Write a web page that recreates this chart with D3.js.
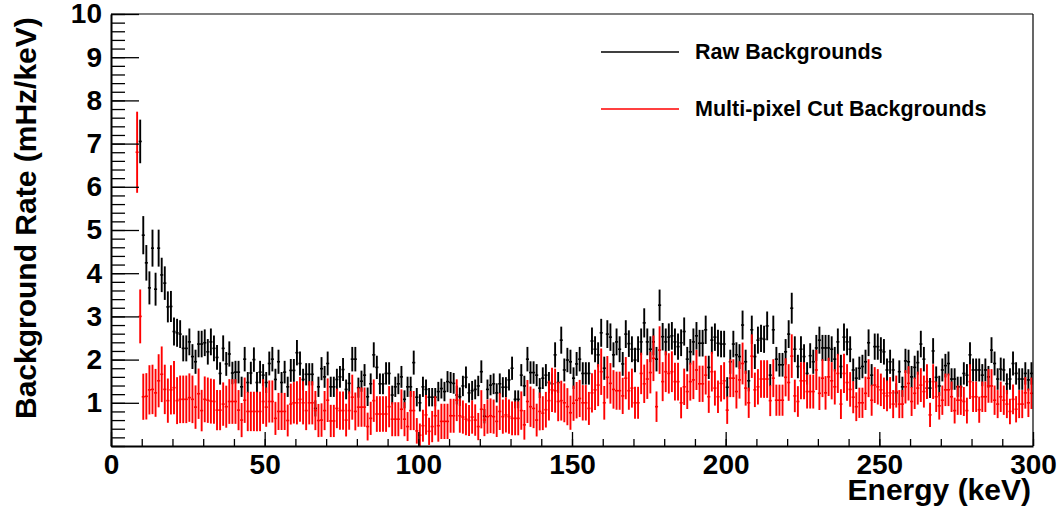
<!DOCTYPE html>
<html>
<head>
<meta charset="utf-8">
<script src="https://cdnjs.cloudflare.com/ajax/libs/d3/7.8.5/d3.min.js"></script>
<style>
  html, body { margin: 0; padding: 0; background: #fff; }
  svg { display: block; }
  text { font-family: "Liberation Sans", Arial, Helvetica, sans-serif; font-weight: bold; fill: #000; }
</style>
</head>
<body>
<svg id="chart" width="1061" height="510"></svg>
<script>
// ---------------- DATA ----------------
// Bin width 1 keV; first bin lower edges
const rawFirstBin = 9;
const cutFirstBin = 8;

// Raw Backgrounds (mHz/keV), bins 9..299 keV
const rawValues = [
  7.05,
  4.88, 4.24, 3.66, 4.58, 3.63, 4.58, 3.96, 3.77, 3.22, 3.23,
  2.65, 2.62, 2.59, 2.26, 2.26, 2.41, 2.07, 1.95, 2.36, 2.36,
  2.39, 2.18, 2.41, 2.26, 2.05, 1.68, 2.26, 1.90, 2.13, 1.69,
  1.71, 1.71, 1.37, 2.01, 1.47, 1.69, 2.00, 1.47, 1.71, 1.64,
  1.47, 1.91, 2.01, 1.54, 1.95, 1.47, 1.71, 1.37, 1.75, 1.75,
  2.16, 1.91, 1.54, 1.66, 1.66, 1.66, 0.87, 1.37, 1.79, 1.60,
  1.91, 1.37, 1.37, 1.54, 1.60, 1.77, 1.31, 1.45, 2.01, 2.01,
  1.35, 1.50, 1.64, 1.14, 1.44, 2.11, 1.82, 1.44, 1.44, 1.68,
  1.68, 1.18, 1.37, 1.44, 1.60, 1.08, 1.37, 1.37, 1.93, 1.13,
  1.00, 1.37, 1.31, 1.13, 1.13, 1.13, 1.26, 1.33, 1.26, 1.49,
  1.47, 1.45, 1.18, 1.14, 1.39, 1.59, 1.23, 1.28, 1.31, 1.39,
  1.72, 0.69, 1.31, 1.41, 1.44, 1.23, 1.44, 1.36, 1.36, 1.53,
  1.80, 1.08, 1.08, 1.64, 1.39, 2.01, 1.70, 1.70, 1.64, 1.34,
  1.57, 1.64, 1.47, 1.44, 2.11, 1.47, 2.45, 1.76, 1.99, 1.95,
  1.57, 1.90, 2.01, 1.68, 1.68, 1.68, 2.43, 2.24, 2.11, 2.62,
  1.80, 2.59, 2.52, 2.11, 2.41, 2.24, 1.90, 2.59, 2.37, 2.24,
  1.99, 2.24, 2.41, 2.85, 2.41, 2.24, 2.41, 2.01, 3.26, 2.53,
  2.41, 2.52, 2.55, 2.41, 2.30, 2.39, 2.65, 2.01, 2.18, 2.41,
  2.55, 2.38, 2.38, 2.69, 1.82, 2.45, 2.52, 2.38, 2.36, 2.36,
  1.36, 1.95, 2.36, 2.11, 2.07, 2.80, 1.95, 1.51, 2.69, 2.07,
  2.45, 2.49, 2.47, 2.78, 1.64, 2.69, 2.01, 1.88, 1.88, 2.18,
  2.59, 3.19, 2.24, 1.84, 2.24, 2.07, 1.68, 2.09, 1.95, 2.27,
  2.45, 2.27, 2.27, 2.27, 2.24, 2.01, 2.41, 1.84, 2.52, 2.41,
  2.24, 1.76, 1.57, 1.80, 1.84, 1.95, 2.39, 1.64, 2.30, 2.30,
  2.22, 2.18, 1.76, 1.95, 1.76, 1.23, 1.72, 1.37, 1.97, 1.95,
  1.60, 1.82, 1.93, 2.36, 2.01, 1.34, 1.34, 2.20, 1.59, 1.39,
  1.76, 1.86, 1.91, 1.55, 1.55, 1.37, 1.37, 1.68, 1.64, 2.11,
  1.76, 1.76, 1.76, 1.64, 1.76, 1.60, 2.22, 1.91, 1.55, 1.78,
  1.76, 1.44, 1.55, 1.91, 1.68, 1.55, 1.55, 1.68, 1.53, 1.68
];

// Multi-pixel Cut Backgrounds (mHz/keV), bins 8..299 keV
const cutValues = [
  6.80, 3.00,
  1.14, 1.15, 1.30, 1.31, 1.23, 1.51, 1.66, 1.31, 1.05, 1.30,
  1.35, 1.05, 1.08, 1.08, 1.08, 1.12, 1.08, 0.90, 1.21, 0.82,
  1.08, 1.06, 1.04, 1.03, 0.83, 0.83, 0.97, 0.91, 1.03, 1.03,
  1.03, 0.83, 0.60, 1.06, 0.80, 0.80, 0.80, 0.80, 0.80, 1.03,
  0.90, 1.03, 1.03, 0.64, 0.80, 0.80, 0.80, 0.59, 0.97, 1.00,
  1.00, 1.08, 1.00, 0.82, 1.00, 1.00, 0.82, 0.59, 0.60, 0.82,
  1.06, 0.58, 0.58, 0.87, 0.82, 0.82, 0.60, 0.82, 1.13, 0.80,
  0.90, 0.90, 0.90, 0.45, 0.64, 1.05, 0.74, 0.74, 0.74, 0.74,
  0.91, 0.62, 0.62, 0.62, 0.85, 0.62, 0.45, 0.82, 0.82, 0.35,
  0.25, 0.47, 0.72, 0.34, 0.45, 0.70, 0.47, 0.57, 0.57, 0.57,
  0.70, 0.70, 1.06, 0.70, 0.67, 0.62, 0.59, 0.67, 0.60, 0.45,
  0.85, 0.60, 0.68, 0.70, 0.68, 0.57, 0.80, 0.68, 0.72, 0.68,
  0.64, 0.64, 0.64, 0.82, 0.49, 1.03, 0.91, 0.87, 0.60, 0.80,
  0.76, 0.84, 1.05, 1.30, 1.28, 1.03, 1.05, 1.00, 0.91, 0.77,
  0.99, 1.06, 1.10, 1.00, 1.00, 0.87, 1.23, 1.30, 1.41, 1.72,
  1.00, 1.59, 1.45, 1.31, 1.28, 1.28, 1.16, 1.57, 1.28, 1.34,
  1.00, 1.00, 1.68, 1.44, 1.55, 1.70, 2.03, 0.91, 2.22, 1.49,
  1.72, 1.68, 1.72, 1.49, 1.49, 1.00, 1.37, 1.26, 1.49, 1.53,
  1.76, 1.44, 1.44, 1.64, 1.14, 1.72, 1.34, 1.14, 1.45, 1.51,
  0.83, 1.57, 1.57, 1.26, 1.53, 1.91, 1.34, 1.00, 2.08, 1.30,
  1.37, 1.55, 1.55, 1.55, 1.05, 1.57, 1.06, 1.06, 1.06, 1.59,
  1.47, 2.08, 1.16, 1.03, 1.51, 1.51, 1.26, 1.26, 1.26, 1.76,
  1.22, 1.57, 1.23, 1.60, 1.51, 1.37, 1.68, 0.97, 1.68, 1.47,
  1.31, 1.13, 0.91, 1.00, 1.00, 1.22, 1.57, 1.06, 1.41, 1.37,
  1.30, 1.22, 1.16, 1.23, 0.97, 1.26, 0.97, 0.97, 1.37, 1.45,
  1.03, 1.22, 1.34, 1.41, 1.26, 1.49, 0.72, 1.49, 1.14, 0.93,
  1.06, 1.30, 1.30, 1.14, 0.82, 1.06, 1.06, 1.03, 0.82, 1.49,
  1.14, 1.14, 0.84, 1.14, 1.14, 1.39, 1.39, 1.06, 0.97, 1.14,
  1.06, 0.97, 0.80, 1.08, 0.85, 0.97, 0.97, 1.23, 1.00, 1.22
];

// Statistical error scale (err = scale * sqrt(value)), read per 10 keV segment
const rawErrScale = [0.19, 0.20, 0.20, 0.20, 0.20, 0.20, 0.20, 0.20, 0.20, 0.20,
                     0.20, 0.20, 0.20, 0.20, 0.20, 0.20, 0.20, 0.20, 0.20, 0.20,
                     0.20, 0.20, 0.20, 0.20, 0.20, 0.20, 0.20, 0.20, 0.20, 0.20];
const cutErrScale = [0.36, 0.50, 0.53, 0.51, 0.51, 0.48, 0.50, 0.49, 0.48, 0.50,
                     0.54, 0.47, 0.48, 0.49, 0.45, 0.41, 0.39, 0.37, 0.36, 0.35,
                     0.35, 0.35, 0.35, 0.35, 0.35, 0.33, 0.33, 0.33, 0.33, 0.33];

const xTickValues = [0, 50, 100, 150, 200, 250, 300];
const yTickValues = [1, 2, 3, 4, 5, 6, 7, 8, 9, 10];
const seriesNames = ["Raw Backgrounds", "Multi-pixel Cut Backgrounds"];
const seriesColors = ["#000000", "#ff0000"];
const xTitle = "Energy (keV)";
const yTitle = "Background Rate (mHz/keV)";

// ---------------- LAYOUT ----------------
const L = 111, R = 1033, T = 14, B = 446;
const svg = d3.select("#chart");
const x = d3.scaleLinear().domain([0, 300]).range([L, R]);
const y = d3.scaleLinear().domain([0, 10]).range([B, T]);

svg.append("defs").append("clipPath").attr("id", "plotclip")
  .append("rect").attr("x", L).attr("y", T).attr("width", R - L).attr("height", B - T);

function build(values, firstBin, scale) {
  return values.map((v, i) => {
    const lo = firstBin + i;
    const seg = Math.min(scale.length - 1, Math.floor(lo / 10));
    const e = scale[seg] * Math.sqrt(v);
    return { lo: lo, hi: lo + 1, c: lo + 0.5, v: v, e: e };
  });
}
const rawData = build(rawValues, rawFirstBin, rawErrScale);
const cutData = build(cutValues, cutFirstBin, cutErrScale);

function drawSeries(data, color) {
  const g = svg.append("g").attr("clip-path", "url(#plotclip)")
    .attr("stroke", color).attr("fill", "none");
  g.selectAll("line.v").data(data).enter().append("line")
    .attr("class", "v")
    .attr("x1", d => x(d.c)).attr("x2", d => x(d.c))
    .attr("y1", d => y(d.v - d.e)).attr("y2", d => y(d.v + d.e))
    .attr("stroke-width", 1.9);
  g.selectAll("line.h").data(data).enter().append("line")
    .attr("class", "h")
    .attr("x1", d => x(d.lo)).attr("x2", d => x(d.hi))
    .attr("y1", d => y(d.v)).attr("y2", d => y(d.v))
    .attr("stroke-width", 1.6);
}
drawSeries(rawData, seriesColors[0]);
drawSeries(cutData, seriesColors[1]);

// ---------------- AXES ----------------
// frame (top / right)
svg.append("line").attr("x1", L).attr("x2", R).attr("y1", T).attr("y2", T)
  .attr("stroke", "#000").attr("stroke-width", 1.2);
svg.append("line").attr("x1", R).attr("x2", R).attr("y1", T).attr("y2", B)
  .attr("stroke", "#000").attr("stroke-width", 1.2);

// x minor ticks
svg.append("g").attr("transform", `translate(0,${B})`)
  .call(d3.axisBottom(x).tickValues(d3.range(0, 301, 10)).tickSizeInner(-7).tickSizeOuter(0).tickFormat(""))
  .call(g => g.selectAll("line").attr("stroke-width", 1.3))
  .call(g => g.select(".domain").remove());
// x major ticks + labels
const xAxis = svg.append("g").attr("transform", `translate(0,${B})`)
  .call(d3.axisBottom(x).tickValues(xTickValues).tickSizeInner(-14).tickSizeOuter(0).tickPadding(8));
xAxis.selectAll("line").attr("stroke-width", 1.3);
xAxis.select(".domain").attr("stroke-width", 2);
xAxis.selectAll("text").style("font-size", "28px").attr("font-weight", "bold")
  .style("font-family", '"Liberation Sans", Arial, sans-serif');

// y minor ticks
svg.append("g").attr("transform", `translate(${L},0)`)
  .call(d3.axisLeft(y).tickValues(d3.range(0, 10.01, 0.2)).tickSizeInner(-14).tickSizeOuter(0).tickFormat(""))
  .call(g => g.selectAll("line").attr("stroke-width", 1.3))
  .call(g => g.select(".domain").remove());
// y major ticks + labels
const yAxis = svg.append("g").attr("transform", `translate(${L},0)`)
  .call(d3.axisLeft(y).tickValues(yTickValues).tickSizeInner(-28).tickSizeOuter(0).tickPadding(9));
yAxis.selectAll("line").attr("stroke-width", 1.3);
yAxis.select(".domain").attr("stroke-width", 2);
yAxis.selectAll("text").style("font-size", "28px").attr("font-weight", "bold")
  .style("font-family", '"Liberation Sans", Arial, sans-serif');

// axis titles
svg.append("text").attr("x", 1031).attr("y", 500).attr("text-anchor", "end")
  .style("font-size", "30px").text(xTitle);
svg.append("text").attr("transform", "translate(36,419) rotate(-90)")
  .attr("text-anchor", "start").style("font-size", "30px").text(yTitle);

// ---------------- LEGEND ----------------
const legendY = [52, 109];
seriesNames.forEach((name, i) => {
  svg.append("line").attr("x1", 601).attr("x2", 679)
    .attr("y1", legendY[i]).attr("y2", legendY[i])
    .attr("stroke", seriesColors[i]).attr("stroke-width", 1.3);
  svg.append("text").attr("x", 695).attr("y", legendY[i] + 6.5)
    .style("font-size", "21.5px").text(name);
});
</script>
</body>
</html>
